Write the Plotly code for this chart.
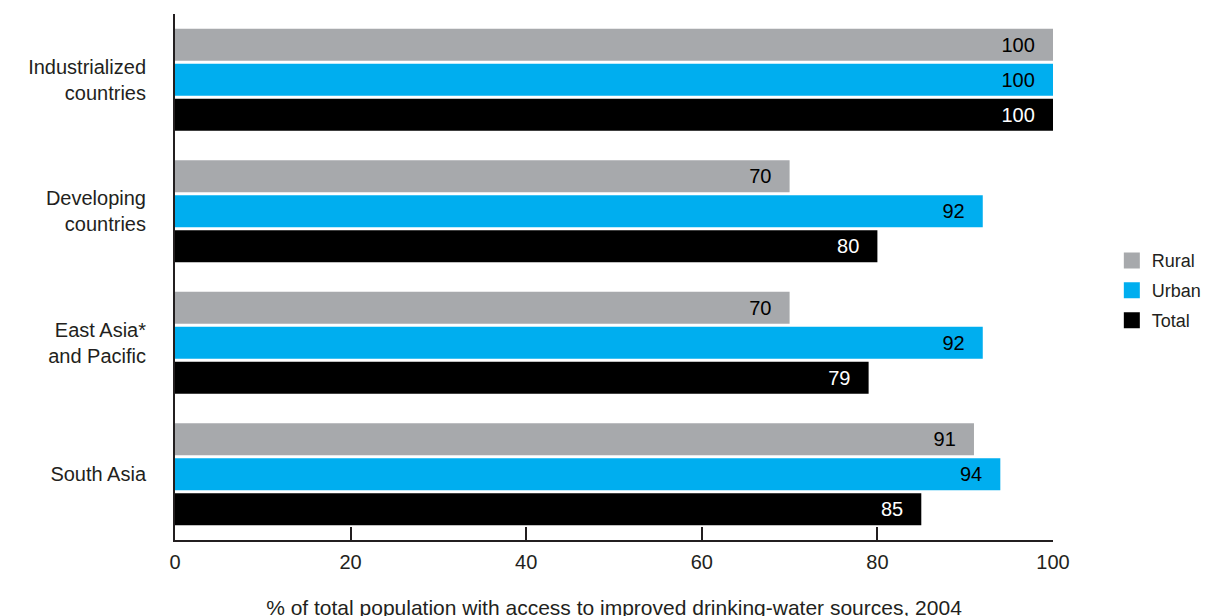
import plotly.graph_objects as go

regions = ["Industrialized<br>countries", "Developing<br>countries", "East Asia*<br>and Pacific", "South Asia"]
rural = [100, 70, 70, 91]
urban = [100, 92, 92, 94]
total = [100, 80, 79, 85]
x_ticks = [0, 20, 40, 60, 80, 100]
x_title = "% of total population with access to improved drinking-water sources, 2004"

series = [
    ("Rural", rural, "#a7a9ac", "#000000"),
    ("Urban", urban, "#00aeef", "#000000"),
    ("Total", total, "#000000", "#ffffff"),
]

FONT = "Liberation Sans, Arial, sans-serif"
PAD = "\u2007\u2009"

fig = go.Figure()
for name, vals, color, tcolor in series:
    fig.add_trace(go.Bar(
        y=regions, x=vals, orientation="h", name=name,
        marker=dict(color=color, line=dict(width=0)),
        texttemplate="%{x}" + PAD, textposition="inside", insidetextanchor="end",
        textfont=dict(family=FONT, size=20, color=tcolor), textangle=0,
        constraintext="none", showlegend=False, hoverinfo="skip",
    ))
for name, vals, color, tcolor in series:
    fig.add_trace(go.Scatter(
        x=[None], y=[None], mode="markers", name=name, legendgroup=name,
        marker=dict(symbol="square", size=16, color=color),
    ))

fig.update_layout(
    width=1209, height=616,
    margin=dict(l=167, r=164, t=6, b=84, autoexpand=False),
    paper_bgcolor="white", plot_bgcolor="white",
    barmode="group", bargap=0.2, bargroupgap=0.086,
    font=dict(family=FONT, size=19, color="#231f20"),
    legend=dict(x=1.067, y=0.474, xanchor="left", yanchor="middle",
                font=dict(size=18, color="#231f20"), traceorder="grouped",
                tracegroupgap=3.5,
                bgcolor="rgba(0,0,0,0)", itemwidth=30),
    showlegend=True,
)
fig.update_xaxes(
    range=[0, 100], tickvals=x_ticks, showgrid=False, zeroline=False,
    showline=True, linecolor="#231f20", linewidth=2,
    ticks="inside", ticklen=13, tickwidth=2, tickcolor="#231f20",
    tickfont=dict(size=20), ticklabelstandoff=3,
    title=dict(text=x_title, font=dict(size=21), standoff=28),
    fixedrange=True, automargin=False,
)
fig.update_yaxes(
    type="category", autorange="reversed", showgrid=False, zeroline=False,
    showline=True, linecolor="#231f20", linewidth=2, ticks="",
    tickfont=dict(size=20), ticklabelstandoff=23,
    fixedrange=True, automargin=False,
)

fig.write_html("out.html")
